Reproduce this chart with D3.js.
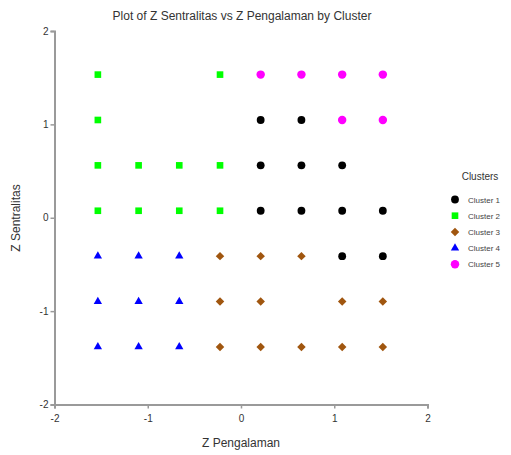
<!DOCTYPE html>
<html>
<head>
<meta charset="utf-8">
<script src="https://cdn.jsdelivr.net/npm/d3@7"></script>
<style>
  body { margin: 0; background: #fff; }
  text { font-family: "Liberation Sans", Arial, sans-serif; }
</style>
</head>
<body>
<script>
// grid values of the standardized variables
var xVals = [-1.535, -1.098, -0.662, -0.225, 0.211, 0.648, 1.085, 1.521]
var yVals = [1.533, 1.047, 0.561, 0.075, -0.411, -0.897, -1.383]

// cluster of each point, [xIndex, yIndex]
var cluster1 = [[4,1],[5,1],[4,2],[5,2],[6,2],[4,3],[5,3],[6,3],[7,3],[6,4],[7,4]]
var cluster2 = [[0,0],[3,0],[0,1],[0,2],[1,2],[2,2],[3,2],[0,3],[1,3],[2,3],[3,3]]
var cluster3 = [[3,4],[4,4],[5,4],[3,5],[4,5],[6,5],[7,5],[3,6],[4,6],[5,6],[6,6],[7,6]]
var cluster4 = [[0,4],[1,4],[2,4],[0,5],[1,5],[2,5],[0,6],[1,6],[2,6]]
var cluster5 = [[4,0],[5,0],[6,0],[7,0],[6,1],[7,1]]

var clusterNames = ['Cluster 1', 'Cluster 2', 'Cluster 3', 'Cluster 4', 'Cluster 5']
var ticks = [-2, -1, 0, 1, 2]

// diamond = square turned 45 degrees
var styles = [
  {color: '#000000', shape: d3.symbolCircle, size: 48, rot: 0},
  {color: '#00ff00', shape: d3.symbolSquare, size: 44, rot: 0},
  {color: '#a0560f', shape: d3.symbolSquare, size: 36, rot: 45},
  {color: '#0000ff', shape: d3.symbolTriangle, size: 30, rot: 0},
  {color: '#ff00ff', shape: d3.symbolCircle, size: 56, rot: 0}
]

var svg = d3.select('body').append('svg')
  .attr('width', 511)
  .attr('height', 455)

var x = d3.scaleLinear().domain([-2, 2]).range([54.5, 427.5])
var y = d3.scaleLinear().domain([-2, 2]).range([404.5, 31])

// title
svg.append('text')
  .attr('x', 242).attr('y', 20)
  .attr('text-anchor', 'middle')
  .attr('font-size', '12px')
  .attr('fill', '#333')
  .text('Plot of Z Sentralitas vs Z Pengalaman by Cluster')

// axes
var xAxis = svg.append('g').attr('transform', 'translate(0,404.5)')
  .call(d3.axisBottom(x).tickValues(ticks).tickSize(4).tickFormat((d) => String(d)))
var yAxis = svg.append('g').attr('transform', 'translate(54.5,0)')
  .call(d3.axisLeft(y).tickValues(ticks).tickSize(4).tickFormat((d) => String(d)))

;[xAxis, yAxis].forEach(function(a) {
  a.select('.domain').attr('stroke', '#9a9a9a').attr('stroke-width', 2)
  a.selectAll('.tick line').attr('stroke', '#9a9a9a').attr('stroke-width', 1.5)
  a.selectAll('.tick text').attr('font-size', '10px').attr('fill', '#333')
    .attr('font-family', '"Liberation Sans", Arial, sans-serif')
})
xAxis.selectAll('.tick text').attr('dy', '1em')
yAxis.selectAll('.tick text').attr('x', -6)

// axis labels
svg.append('text')
  .attr('x', 241).attr('y', 447)
  .attr('text-anchor', 'middle')
  .attr('font-size', '12px')
  .attr('fill', '#333')
  .text('Z Pengalaman')

svg.append('text')
  .attr('transform', 'translate(20,218) rotate(-90)')
  .attr('text-anchor', 'middle')
  .attr('font-size', '12px')
  .attr('fill', '#333')
  .text('Z Sentralitas')

// points
var clusters = [cluster1, cluster2, cluster3, cluster4, cluster5]
clusters.forEach(function(pts, i) {
  var st = styles[i]
  svg.append('g').selectAll('path')
    .data(pts)
    .enter()
    .append('path')
    .attr('transform', (d) => 'translate(' + x(xVals[d[0]]) + ',' + y(yVals[d[1]]) + ') rotate(' + st.rot + ')')
    .attr('d', d3.symbol().type(st.shape).size(st.size))
    .attr('fill', st.color)
})

// legend
var lg = svg.append('g').attr('class', 'legend')
lg.append('text')
  .attr('x', 480).attr('y', 180)
  .attr('text-anchor', 'middle')
  .attr('font-size', '10px')
  .attr('fill', '#333')
  .text('Clusters')

clusterNames.forEach(function(name, i) {
  var yy = 199.5 + i * 16.2
  var st = styles[i]
  lg.append('path')
    .attr('transform', 'translate(455,' + yy + ') rotate(' + st.rot + ')')
    .attr('d', d3.symbol().type(st.shape).size(st.size))
    .attr('fill', st.color)
  lg.append('text')
    .attr('x', 468).attr('y', yy + 3)
    .attr('font-size', '8px')
    .attr('fill', '#444')
    .text(name)
})
</script>
</body>
</html>
